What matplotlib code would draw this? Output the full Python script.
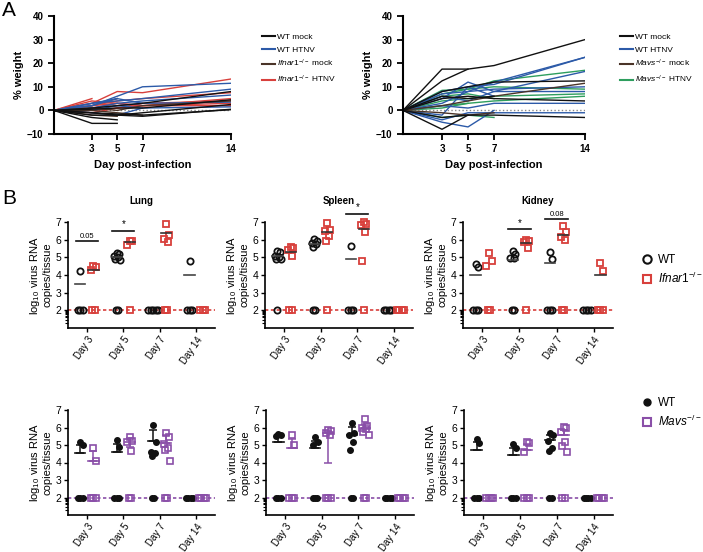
import numpy as np
import matplotlib
matplotlib.use('Agg')
import matplotlib.pyplot as plt
from matplotlib.lines import Line2D

plt.rcParams['font.family'] = ['Liberation Sans', 'DejaVu Sans']
plt.rcParams['mathtext.fontset'] = 'custom'
plt.rcParams['mathtext.rm'] = 'Liberation Sans'
plt.rcParams['mathtext.it'] = 'Liberation Sans:italic'

W, H = 703, 552

# ---------------- panel A: body weight, one list per mouse ----------------
days = [0, 3, 5, 7, 14]
N = np.nan

ifnar_wt_mock = [[0, -5.5, -5.5, N, N], [0, -3, -4, N, N], [0, -2, -2, -2.5, 0.5],
                 [0, -1, -1.5, -2, 0.3], [0, 1, 2, 3, 8], [0, 0.5, 1, 1, 4.5],
                 [0, -1, -2, -1, 2.5]]
ifnar_wt_htnv = [[0, 2, 6, 10, 11.5], [0, 3, 4, 5, 9], [0, 1, 3, 4, 6.5],
                 [0, 2, 5, 3, 3.5], [0, 0, 2, 1, 1.5], [0, 3, 5, N, N],
                 [0, -1, -2, 1, N], [0, 1, 2, 3, N]]
ifnar_ko_mock = [[0, 0, -1, -2, N], [0, -2, -2.5, N, N], [0, 1, 0, 2, 4]]
ifnar_ko_htnv = [[0, 5, N, N, N], [0, 3, 8, 7.5, 13.3], [0, 2, 4, 5, 7.5],
                 [0, 1, 3, 2, 5], [0, 0, 1, 3, 4], [0, 2, 3, 2, 3],
                 [0, -1, 1, 2, 2], [0, 4, 3, N, N], [0, 2, 5, N, N]]

mavs_wt_mock = [[0, 17.5, 17.5, 19, 30], [0, 12.5, 17.5, N, N], [0, 8, 10, 12, 12.5],
                [0, 5, 6, 5, 4], [0, -8, -2, N, N], [0, -3, -2, -2, -3],
                [0, 6, 5, 6, N]]
mavs_wt_htnv = [[0, 7, 8, 12, 22.5], [0, 8, 10, 11, 22.5], [0, 5, 12, 8, 16.5],
                [0, 3, 8, 9, 10], [0, -5, -7, 0, N], [0, 2, 1, 3, 3],
                [0, -4, -1, -1, -1], [0, 6, 4, 8, 8], [0, -2, 10, 6, N]]
mavs_ko_mock = [[0, 2, 4, 6, 11.5], [0, -1, -2, -1, N]]
mavs_ko_htnv = [[0, 8.5, 9, 12.5, 17], [0, 7, 9, 10, 9], [0, 4, 5, 6, 7],
                [0, 2, 3, 4, 6], [0, -3, -2, -3, N], [0, 6, 7, 5, N],
                [0, 1, 3, N, N]]

# ---------------- panel B: viral RNA ----------------
day_labels = ['Day 3', 'Day 5', 'Day 7', 'Day 14']
LOD = 2.0

# Ifnar1 row: [points per day], mean per day (None = no line)
lung_wt = [[4.25, 2, 2, 2], [5.25, 5.2, 5.1, 5.0, 4.9, 4.85, 2, 2], [2, 2, 2, 2, 2], [4.8, 2, 2, 2]]
lung_ko = [[4.5, 4.45, 4.3, 2, 2], [5.95, 5.9, 5.7, 2], [6.9, 6.25, 6.05, 5.87, 2, 2], [2, 2, 2]]
lung_wt_mean = [3.47, 5.0, None, 4.02]
lung_ko_mean = [4.3, 5.85, 6.38, None]

spleen_wt = [[5.38, 5.28, 5.1, 5.0, 4.9, 4.88, 2], [6.05, 5.9, 5.82, 5.75, 5.57, 2, 2], [5.65, 2, 2, 2], [2, 2, 2, 2]]
spleen_ko = [[5.57, 5.52, 5.4, 5.1, 2, 2], [6.95, 6.55, 6.5, 6.2, 5.9, 2], [7.0, 6.88, 6.85, 6.45, 4.8, 2], [2, 2, 2, 2]]
spleen_wt_mean = [5.05, 5.75, 4.88, None]
spleen_ko_mean = [5.33, 6.45, 6.63, None]

kidney_wt = [[4.6, 4.45, 2, 2, 2], [5.35, 5.2, 4.98, 4.95, 2, 2], [5.3, 4.88, 2, 2, 2], [2, 2, 2, 2]]
kidney_ko = [[5.27, 4.8, 4.5, 2, 2], [6.0, 5.9, 5.87, 5.5, 2], [6.8, 6.43, 6.15, 6.0, 2, 2], [4.67, 4.25, 2, 2, 2]]
kidney_wt_mean = [3.98, 4.85, 4.67, None]
kidney_ko_mean = [None, 5.8, 6.29, 4.0]

# significance bars: (day index, height, label)
lung_sig = [(0, 5.9, '0.05'), (1, 6.5, '*')]
spleen_sig = [(2, 7.48, '*')]
kidney_sig = [(1, 6.58, '*'), (2, 7.15, '0.08')]

# Mavs row: points, mean, upper error, lower error
m_lung_wt = [[5.15, 5.0, 2, 2, 2], [5.3, 4.87, 2, 2, 2], [6.12, 5.2, 4.58, 4.55, 4.37, 2, 2], [2, 2, 2, 2]]
m_lung_ko = [[4.85, 4.1, 2, 2, 2], [5.45, 5.25, 5.2, 4.68, 2, 2], [5.7, 5.45, 5.05, 4.85, 4.7, 4.1, 2, 2], [2, 2, 2, 2]]
m_lung_wt_mean = [4.52, 4.6, 5.25, None]
m_lung_wt_err = [(0.5, 0), (0.47, 0), (0.6, 0), None]
m_lung_ko_mean = [4.1, 5.15, 5.1, None]
m_lung_ko_err = [(0.55, 0), (0.25, 0.25), (0.45, 0), None]

m_spleen_wt = [[5.65, 5.55, 5.5, 2, 2, 2], [5.45, 5.2, 5.0, 2, 2, 2], [6.25, 5.7, 5.6, 5.2, 4.7, 2, 2], [2, 2, 2, 2]]
m_spleen_ko = [[5.6, 5.0, 2, 2, 2], [5.85, 5.8, 5.7, 5.6, 2, 2, 2], [6.5, 6.1, 6.0, 5.9, 5.75, 5.55, 2, 2], [2, 2, 2, 2]]
m_spleen_wt_mean = [5.15, 4.85, 5.55, None]
m_spleen_wt_err = [(0.4, 0), (0.4, 0), (0.5, 0), None]
m_spleen_ko_mean = [4.85, 5.7, 5.95, None]
m_spleen_ko_err = [(0.5, 0), (0.1, 1.7), (0.25, 0), None]

m_kidney_wt = [[5.35, 5.1, 2, 2, 2], [5.05, 4.83, 2, 2, 2], [5.7, 5.6, 5.25, 4.85, 4.67, 2, 2], [2, 2, 2, 2]]
m_kidney_ko = [[2, 2, 2, 2], [5.2, 5.1, 4.62, 2, 2, 2], [6.05, 5.95, 5.75, 5.2, 4.92, 4.62, 2, 2], [2, 2, 2, 2]]
m_kidney_wt_mean = [4.72, 4.43, 5.28, None]
m_kidney_wt_err = [(0.45, 0), (0.4, 0), (0.32, 0), None]
m_kidney_ko_mean = [None, 4.72, 5.55, None]
m_kidney_ko_err = [None, (0.33, 0), (0.28, 0), None]

BLACK = '#111111'
BLUE = '#2c5aa8'
BROWN = '#4a3428'
RED = '#d8403c'
GREEN = '#2e9e5e'
PURPLE = '#8a4fa8'


def rect(x0, y0, x1, y1):
    return [x0 / W, 1 - y1 / H, (x1 - x0) / W, (y1 - y0) / H]


fig = plt.figure(figsize=(W / 100, H / 100), dpi=100)


def weight_panel(box, groups, colors, labels, leg_xy):
    # groups are drawn in the given order, legend order is WT mock, WT HTNV, KO mock, KO HTNV
    ax = fig.add_axes(box)
    for grp, c in groups:
        for mouse in grp:
            y = np.array(mouse, dtype=float)
            ok = ~np.isnan(y)
            ax.plot(np.array(days)[ok], y[ok], color=c, lw=1.0)
    ax.axhline(0, color='#888888', ls=':', lw=1, zorder=0)
    ax.set_xlim(0, 14)
    ax.set_ylim(-10, 40)
    ax.set_xticks([3, 5, 7, 14])
    ax.set_yticks([-10, 0, 10, 20, 30, 40])
    for s in ['top', 'right']:
        ax.spines[s].set_visible(False)
    for s in ['left', 'bottom']:
        ax.spines[s].set_linewidth(1.5)
    ax.tick_params(width=1.3, length=4, labelsize=7)
    for t in ax.get_xticklabels() + ax.get_yticklabels():
        t.set_fontweight('bold')
    ax.set_xlabel('Day post-infection', fontsize=8, fontweight='bold', labelpad=4)
    ax.set_ylabel('% weight', fontsize=8, fontweight='bold', labelpad=2)
    handles = [Line2D([], [], color=c, lw=1.5) for c in colors]
    fig.legend(handles, labels, loc='upper left', bbox_to_anchor=leg_xy, frameon=False,
               fontsize=6, handlelength=1.5, handletextpad=0.3, labelspacing=0.55,
               borderaxespad=0)
    return ax


weight_panel(rect(54, 16, 231, 134),
             [(ifnar_ko_htnv, RED), (ifnar_wt_htnv, BLUE), (ifnar_ko_mock, BROWN), (ifnar_wt_mock, BLACK)],
             [BLACK, BLUE, BROWN, RED],
             ['WT mock', 'WT HTNV', r'$\mathit{Ifnar1}^{-/-}$ mock', r'$\mathit{Ifnar1}^{-/-}$ HTNV'],
             (259 / W, 1 - 30 / H))
weight_panel(rect(403, 16, 585, 134),
             [(mavs_ko_htnv, GREEN), (mavs_wt_htnv, BLUE), (mavs_ko_mock, BROWN), (mavs_wt_mock, BLACK)],
             [BLACK, BLUE, BROWN, GREEN],
             ['WT mock', 'WT HTNV', r'$\mathit{Mavs}^{-/-}$ mock', r'$\mathit{Mavs}^{-/-}$ HTNV'],
             (617 / W, 1 - 30 / H))


def spread(vals, center):
    vals = np.array(vals, dtype=float)
    x = np.full(len(vals), center)
    low = np.where(vals <= LOD + 0.01)[0]
    if len(low):
        x[low] = center + (np.arange(len(low)) - (len(low) - 1) / 2) * 0.065
    high = np.where(vals > LOD + 0.01)[0]
    pattern = [0, 0.07, -0.07, 0.04, -0.04, 0.1]
    for k, idx in enumerate(high):
        x[idx] = center + pattern[k % len(pattern)]
    return x


def style_b(ax, title=None, ylab=True):
    ax.set_xlim(-0.52, 3.52)
    ax.set_ylim(1, 7)
    ax.set_yticks([2, 3, 4, 5, 6, 7])
    ax.set_yticks(np.log10(np.arange(2, 10)) + 1, minor=True)
    ax.set_xticks(range(4))
    ax.set_xticklabels(day_labels, rotation=55, ha='right', rotation_mode='anchor', fontsize=7)
    for s in ['top', 'right']:
        ax.spines[s].set_visible(False)
    for s in ['left', 'bottom']:
        ax.spines[s].set_linewidth(1.2)
    ax.tick_params(axis='y', labelsize=7.5, length=3, width=1, pad=2)
    ax.tick_params(axis='y', which='minor', length=2, width=0.8)
    ax.tick_params(axis='x', length=3, width=1, pad=2)
    if ylab:
        ax.set_ylabel('log$_{10}$ virus RNA\ncopies/tissue', fontsize=8, labelpad=2, linespacing=1.0)
    if title:
        ax.set_title(title, fontsize=7, fontweight='bold', pad=13)


def ifnar_panel(box, title, wt, ko, wt_mean, ko_mean, sig):
    ax = fig.add_axes(box)
    ax.axhline(LOD, color=RED, ls=(0, (2, 1.5)), lw=1.2, zorder=1)
    for i in range(4):
        xw = spread(wt[i], i - 0.18)
        xk = spread(ko[i], i + 0.18)
        ax.plot(xw, wt[i], 'o', ms=4.5, mfc='none', mec=BLACK, mew=1.3, zorder=3, clip_on=False)
        ax.plot(xk, ko[i], 's', ms=4.5, mfc='none', mec=RED, mew=1.3, zorder=3, clip_on=False)
        if wt_mean[i] is not None:
            ax.plot([i - 0.32, i - 0.04], [wt_mean[i]] * 2, color='#444444', lw=1.2, zorder=4)
        if ko_mean[i] is not None:
            ax.plot([i + 0.04, i + 0.32], [ko_mean[i]] * 2, color='#333333', lw=1.2, zorder=4)
    for i, h, lab in sig:
        ax.plot([i - 0.3, i + 0.3], [h, h], color=BLACK, lw=1.2, clip_on=False)
        ax.text(i, h + 0.08, lab, ha='center', va='bottom', fontsize=5.5 if lab != '*' else 7)
    style_b(ax, title)
    return ax


ifnar_panel(rect(68, 222, 215, 328), 'Lung', lung_wt, lung_ko, lung_wt_mean, lung_ko_mean, lung_sig)
ifnar_panel(rect(265, 222, 413, 328), 'Spleen', spleen_wt, spleen_ko, spleen_wt_mean, spleen_ko_mean, spleen_sig)
ifnar_panel(rect(463, 222, 613, 328), 'Kidney', kidney_wt, kidney_ko, kidney_wt_mean, kidney_ko_mean, kidney_sig)

fig.legend([Line2D([], [], ls='none', marker='o', ms=6, mfc='none', mec=BLACK, mew=1.5),
            Line2D([], [], ls='none', marker='s', ms=6, mfc='none', mec=RED, mew=1.5)],
           ['WT', r'$\mathit{Ifnar1}^{-/-}$'], loc='upper left', bbox_to_anchor=(638 / W, 1 - 249 / H),
           frameon=False, fontsize=8.5, handlelength=0.8, handletextpad=0.5, labelspacing=0.45, borderaxespad=0)


def mavs_panel(box, wt, ko, wt_mean, wt_err, ko_mean, ko_err):
    ax = fig.add_axes(box)
    ax.axhline(LOD - 0.05, color=PURPLE, ls=(0, (2, 1.5)), lw=1.2, zorder=1)
    for i in range(4):
        wv = [v if v > LOD else LOD - 0.05 for v in wt[i]]
        kv = [v if v > LOD else LOD - 0.05 for v in ko[i]]
        xw = spread(wt[i], i - 0.18)
        xk = spread(ko[i], i + 0.18)
        ax.plot(xw, wv, 'o', ms=4, color=BLACK, zorder=3)
        ax.plot(xk, kv, 's', ms=4.5, mfc='none', mec=PURPLE, mew=1.2, zorder=3)
        for m, e, x, c in [(wt_mean[i], wt_err[i], i - 0.18, BLACK), (ko_mean[i], ko_err[i], i + 0.18, PURPLE)]:
            if m is None:
                continue
            ax.plot([x - 0.14, x + 0.14], [m, m], color=c, lw=1.2, zorder=4)
            ax.errorbar(x, m, yerr=[[e[1]], [e[0]]], fmt='none', ecolor=c, elinewidth=1.1,
                        capsize=3, capthick=1.1, zorder=4)
    style_b(ax)
    return ax


mavs_panel(rect(68, 410, 215, 515), m_lung_wt, m_lung_ko, m_lung_wt_mean, m_lung_wt_err,
           m_lung_ko_mean, m_lung_ko_err)
mavs_panel(rect(266, 410, 414, 515), m_spleen_wt, m_spleen_ko, m_spleen_wt_mean, m_spleen_wt_err,
           m_spleen_ko_mean, m_spleen_ko_err)
mavs_panel(rect(464, 410, 613, 515), m_kidney_wt, m_kidney_ko, m_kidney_wt_mean, m_kidney_wt_err,
           m_kidney_ko_mean, m_kidney_ko_err)

fig.legend([Line2D([], [], ls='none', marker='o', ms=5, color=BLACK),
            Line2D([], [], ls='none', marker='s', ms=6, mfc='none', mec=PURPLE, mew=1.5)],
           ['WT', r'$\mathit{Mavs}^{-/-}$'], loc='upper left', bbox_to_anchor=(638 / W, 1 - 392 / H),
           frameon=False, fontsize=8.5, handlelength=0.8, handletextpad=0.5, labelspacing=0.45, borderaxespad=0)

fig.text(2 / W, 1 - 11 / H, 'A', fontsize=15, va='center', ha='left')
fig.text(2 / W, 1 - 199 / H, 'B', fontsize=15, va='center', ha='left')

fig.savefig('out.png', dpi=100)
